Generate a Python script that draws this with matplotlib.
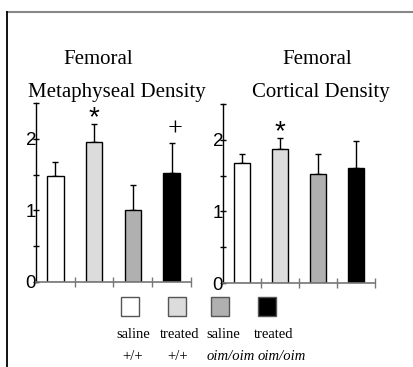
import numpy as np
import matplotlib
matplotlib.use('Agg')
import matplotlib.pyplot as plt
from matplotlib.patches import Rectangle
from matplotlib.lines import Line2D

# data
groups = ['saline +/+', 'treated +/+', 'saline oim/oim', 'treated oim/oim']
colors = ['#ffffff', '#dcdcdc', '#b0b0b0', '#000000']
meta_vals = [1.48, 1.96, 1.01, 1.52]
meta_err = [0.19, 0.24, 0.34, 0.42]
meta_marks = ['', '*', '', '+']
cort_vals = [1.67, 1.87, 1.52, 1.61]
cort_err = [0.13, 0.15, 0.28, 0.38]
cort_marks = ['', '*', '', '']
legend_top = ['saline', 'treated', 'saline', 'treated']
legend_bot = ['+/+', '+/+', 'oim/oim', 'oim/oim']

W, H = 414, 367
fig = plt.figure(figsize=(W / 100, H / 100), dpi=100)

def px_axes(x0, x1, ytop, ybot):
    return fig.add_axes([x0 / W, 1 - ybot / H, (x1 - x0) / W, (ybot - ytop) / H])

def panel(ax, vals, err, marks):
    x = np.arange(len(vals)) + 0.5
    ax.bar(x, vals, width=0.42, color=colors, edgecolor='black', linewidth=1, zorder=2)
    ax.errorbar(x, vals, yerr=[np.zeros(len(vals)), err], fmt='none',
                ecolor='black', elinewidth=1, capsize=2.2, capthick=1, zorder=1)
    for xi, v, e, m in zip(x, vals, err, marks):
        if m == '*':
            ax.text(xi, v + e - 0.01, m, ha='center', va='baseline', fontsize=20,
                    family='Liberation Sans')
        elif m:
            ax.text(xi + 0.09, v + e + 0.10, m, ha='center', va='baseline', fontsize=19,
                    family='Liberation Serif')
    ax.set_xlim(0, 4)
    ax.set_ylim(0, 2.5)
    ax.set_xticks([1, 2, 3, 4])
    ax.set_xticklabels([])
    ax.set_yticks([0, 1, 2])
    ax.set_yticklabels(['0', '1', '2'], family='Liberation Sans', fontsize=13.5)
    ax.set_yticks([0.5, 1.5, 2.5], minor=True)
    ax.tick_params(axis='y', which='both', direction='inout', length=4.5,
                   width=1, pad=-2.4, colors='black')
    ax.tick_params(axis='x', direction='inout', length=6.5, width=1, color='#777777')
    for s in ['top', 'right']:
        ax.spines[s].set_visible(False)
    ax.spines['left'].set_linewidth(1)
    ax.spines['bottom'].set_color('#777777')
    ax.spines['bottom'].set_linewidth(1.2)
    ax.patch.set_alpha(0)

ax1 = px_axes(36, 191, 103, 282)
panel(ax1, meta_vals, meta_err, meta_marks)
ax2 = px_axes(223, 375, 104, 283)
panel(ax2, cort_vals, cort_err, cort_marks)

# overlay in pixel coords for titles, legend and frame
ov = fig.add_axes([0, 0, 1, 1], zorder=-1)
ov.set_xlim(0, W)
ov.set_ylim(H, 0)
ov.axis('off')

tf = dict(family='Liberation Serif', fontsize=15, ha='center', va='baseline')
ov.text(98, 64, 'Femoral', **tf)
ov.text(117, 97, 'Metaphyseal Density', **tf)
ov.text(317, 64, 'Femoral', **tf)
ov.text(321, 97, 'Cortical Density', **tf)

box_x = [130, 177.5, 220.5, 267.5]
top_x = [133, 180, 223.5, 274]
bot_x = [133, 178, 230.7, 281.5]
for i in range(4):
    ov.add_patch(Rectangle((box_x[i] - 9, 297), 18, 19, facecolor=colors[i],
                           edgecolor='#555555', linewidth=1))
    ov.text(top_x[i], 335, legend_top[i], family='Liberation Serif', fontsize=10.5,
            ha='center', va='center')
    ov.text(bot_x[i], 356, legend_bot[i], family='Liberation Serif', fontsize=10.5,
            ha='center', va='center', style='italic' if 'oim' in legend_bot[i] else 'normal')

ov.add_line(Line2D([7, W], [12, 12], color='#888888', linewidth=1.5))
ov.add_line(Line2D([7, 7], [12, H], color='black', linewidth=1.3))

fig.savefig('out.png', dpi=100)
